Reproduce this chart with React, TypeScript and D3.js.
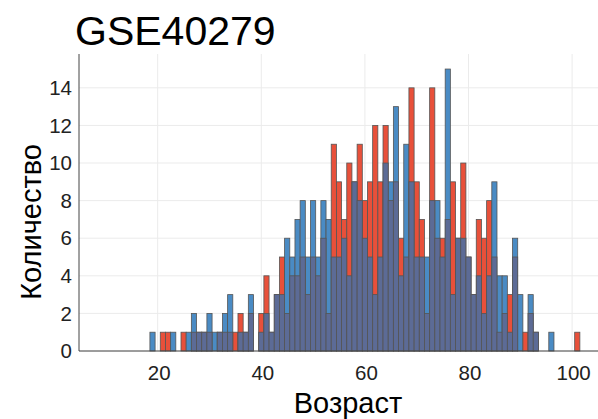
import React from "react";
import * as d3 from "d3";

const startAge = 19;
const redCounts = [
  0, 0, 1, 1, 0, 0, 1, 0, 1, 1, 1, 1, 0, 1, 1, 1, 1, 2, 1, 2, 0, 2, 4, 1,
  3, 5, 2, 4, 4, 5, 3, 5, 4, 6, 2, 11, 9, 7, 10, 9, 11, 8,
  9, 12, 9, 12, 8, 9, 6, 5, 14, 9, 7, 2, 14, 6, 6, 7, 9, 6, 10, 5,
  3, 7, 6, 8, 5, 1, 2, 3, 5, 0, 1, 2, 1, 0, 0, 0, 0, 0, 0, 0, 1,
];
const blueCounts = [
  1, 0, 0, 0, 1, 0, 0, 1, 2, 1, 1, 2, 1, 1, 2, 3, 0, 1, 1, 3, 0, 1, 2, 1,
  3, 3, 6, 5, 7, 8, 5, 8, 5, 8, 7, 5, 5, 6, 4, 9, 8, 6,
  5, 3, 5, 10, 9, 13, 4, 11, 9, 5, 5, 5, 8, 8, 5, 15, 3, 6, 6, 5,
  3, 4, 2, 4, 9, 4, 4, 1, 6, 3, 0, 3, 1, 0, 0, 1, 0, 0, 0, 0, 0,
];
const xTicks = [20, 40, 60, 80, 100];
const yTicks = [0, 2, 4, 6, 8, 10, 12, 14];
const title = "GSE40279";
const xLabel = "Возраст";
const yLabel = "Количество";

const W = 598;
const H = 419;
const M = { left: 79, right: 0, top: 54, bottom: 68 };

const RED = "#E8503A";
const BLUE = "#4A8BC4";
const DARK = "#5C6B96";
const STROKE = "#555";
const FONT = "'Liberation Sans', Arial, sans-serif";

export default function App() {
  const rows = redCounts.map((r, i) => ({ age: startAge + i, r, b: blueCounts[i] }));
  const x = d3.scaleLinear().domain([4.81, 105.0]).range([M.left, W - M.right]);
  const y = d3.scaleLinear().domain([0, 15.8]).range([H - M.bottom, M.top]);
  const y0 = y(0);
  const bar = (age: number, v: number, fill: string, key: string) =>
    v > 0 ? (
      <rect
        key={key}
        x={x(age - 0.5)}
        y={y(v)}
        width={x(age + 0.5) - x(age - 0.5)}
        height={y0 - y(v)}
        fill={fill}
        stroke={STROKE}
        strokeWidth={0.8}
      />
    ) : null;

  return (
    <svg
      width={W}
      height={H}
      style={{ position: "absolute", left: 0, top: 0, background: "#fff" }}
      fontFamily={FONT}
    >
      {yTicks.map((t) => (
        <line key={"gy" + t} x1={M.left} x2={W - M.right} y1={y(t)} y2={y(t)} stroke="#ebebeb" strokeWidth={1} />
      ))}
      {xTicks.map((t) => (
        <line key={"gx" + t} x1={x(t)} x2={x(t)} y1={M.top} y2={y0} stroke="#ebebeb" strokeWidth={1} />
      ))}
      {rows.map((d) =>
        d.r >= d.b ? bar(d.age, d.r, RED, "r" + d.age) : bar(d.age, d.b, BLUE, "b" + d.age)
      )}
      {rows.map((d) => bar(d.age, Math.min(d.r, d.b), DARK, "o" + d.age))}
      <line x1={M.left} x2={M.left} y1={M.top} y2={y0} stroke="#444" strokeWidth={1} />
      <line x1={M.left} x2={W - M.right} y1={y0} y2={y0} stroke="#444" strokeWidth={1} />
      {yTicks.map((t) => (
        <text key={"ty" + t} x={M.left - 7} y={y(t)} dy="0.35em" textAnchor="end" fontSize={20.5} fill="#222">
          {t}
        </text>
      ))}
      {xTicks.map((t) => (
        <text key={"tx" + t} x={x(t) + 1.5} y={y0 + 29} textAnchor="middle" fontSize={20.5} fill="#222">
          {t}
        </text>
      ))}
      <text x={75} y={45} fontSize={41} fill="#000">
        {title}
      </text>
      <text x={348} y={413} textAnchor="middle" fontSize={29} fill="#000">
        {xLabel}
      </text>
      <text
        transform={`translate(41, 222) rotate(-90)`}
        textAnchor="middle"
        fontSize={29}
        fill="#000"
      >
        {yLabel}
      </text>
    </svg>
  );
}
